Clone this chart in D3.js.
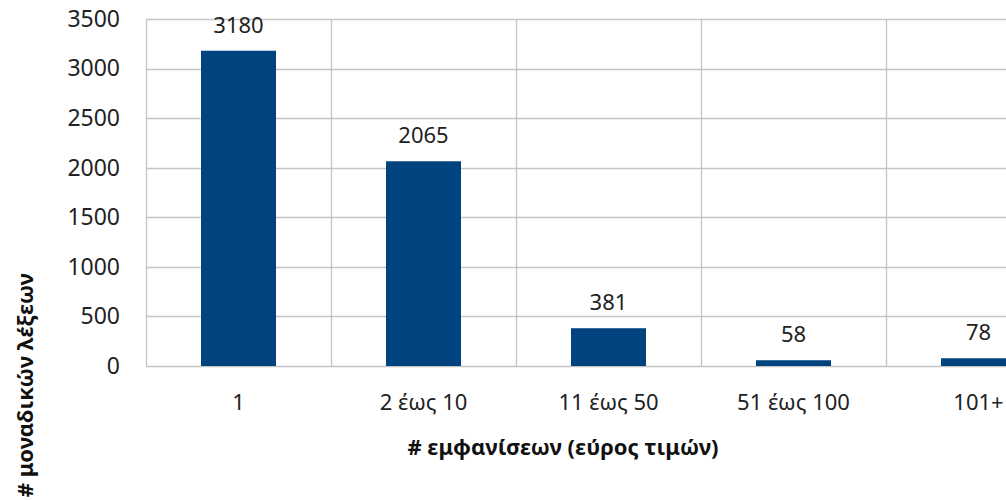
<!DOCTYPE html>
<html>
<head>
<meta charset="utf-8">
<script src="https://cdn.jsdelivr.net/npm/d3@7"></script>
<style>
  body { margin: 0; background: #fff; }
  svg { display: block; font-family: "Noto Sans", "Open Sans", sans-serif; }
</style>
</head>
<body>
<svg id="chart"></svg>
<script>
'use strict';

const WIDTH = 1006;
const HEIGHT = 500;

// data
const categories = ["1", "2 έως 10", "11 έως 50", "51 έως 100", "101+"];
const counts = [3180, 2065, 381, 58, 78];
const yTicks = [0, 500, 1000, 1500, 2000, 2500, 3000, 3500];
const xTitle = "# εμφανίσεων (εύρος τιμών)";
const yTitle = "# μοναδικών λέξεων";

const PLOT_LEFT = 146;
const BAND = 185;
const PLOT_TOP = 19;
const PLOT_BOTTOM = 366;
const GRID = "#c4c4c4";
const BAR = "#00437f";

const svg = d3.select("svg#chart")
              .attr("width", WIDTH)
              .attr("height", HEIGHT);

const x = d3.scaleBand()
            .domain(categories)
            .range([PLOT_LEFT, PLOT_LEFT + BAND * categories.length])
            .paddingInner(0)
            .paddingOuter(0);

const y = d3.scaleLinear()
            .domain([0, 3500])
            .range([PLOT_BOTTOM, PLOT_TOP]);

// horizontal grid
svg.append("g")
   .selectAll("line")
   .data(yTicks)
   .enter()
   .append("line")
   .attr("x1", PLOT_LEFT)
   .attr("x2", x.range()[1])
   .attr("y1", d => Math.round(y(d)) + 0.5)
   .attr("y2", d => Math.round(y(d)) + 0.5)
   .attr("stroke", GRID)
   .attr("stroke-width", 1.3);

// vertical grid at category boundaries
svg.append("g")
   .selectAll("line")
   .data(categories)
   .enter()
   .append("line")
   .attr("x1", d => Math.round(x(d)) + 0.5)
   .attr("x2", d => Math.round(x(d)) + 0.5)
   .attr("y1", y(3500))
   .attr("y2", y(0))
   .attr("stroke", GRID)
   .attr("stroke-width", 1.3);

// y axis labels
const yAxis = d3.axisLeft(y)
                .tickValues(yTicks)
                .tickFormat(d3.format("d"))
                .tickSize(0)
                .tickPadding(26);

svg.append("g")
   .attr("transform", "translate(" + PLOT_LEFT + ",0)")
   .call(yAxis)
   .call(g => g.select(".domain").remove())
   .selectAll("text")
   .attr("font-size", 23)
   .attr("font-family", "Noto Sans")
   .attr("fill", "#222");

// x axis labels
const xAxis = d3.axisBottom(x)
                .tickSize(0)
                .tickPadding(28);

svg.append("g")
   .attr("transform", "translate(0," + PLOT_BOTTOM + ")")
   .call(xAxis)
   .call(g => g.select(".domain").remove())
   .selectAll("text")
   .attr("font-size", 22)
   .attr("font-family", "Noto Sans")
   .attr("fill", "#222");

// bars
const barW = 75;
svg.append("g")
   .selectAll("rect")
   .data(counts)
   .enter()
   .append("rect")
   .attr("x", (d, i) => x(categories[i]) + x.bandwidth() / 2 - barW / 2)
   .attr("y", d => y(d))
   .attr("width", barW)
   .attr("height", d => y(0) - y(d))
   .attr("fill", BAR);

// value labels
svg.append("g")
   .selectAll("text")
   .data(counts)
   .enter()
   .append("text")
   .attr("x", (d, i) => x(categories[i]) + x.bandwidth() / 2)
   .attr("y", d => y(d) - 18)
   .attr("text-anchor", "middle")
   .attr("font-size", 22)
   .attr("fill", "#222")
   .text(d => d);

// axis titles
svg.append("text")
   .attr("x", 563)
   .attr("y", 455)
   .attr("text-anchor", "middle")
   .attr("font-size", 22)
   .attr("font-weight", "bold")
   .attr("fill", "#111")
   .text(xTitle);

svg.append("text")
   .attr("transform", "translate(33,273) rotate(-90)")
   .attr("text-anchor", "end")
   .attr("font-size", 22)
   .attr("font-weight", "bold")
   .attr("fill", "#111")
   .text(yTitle);
</script>
</body>
</html>
